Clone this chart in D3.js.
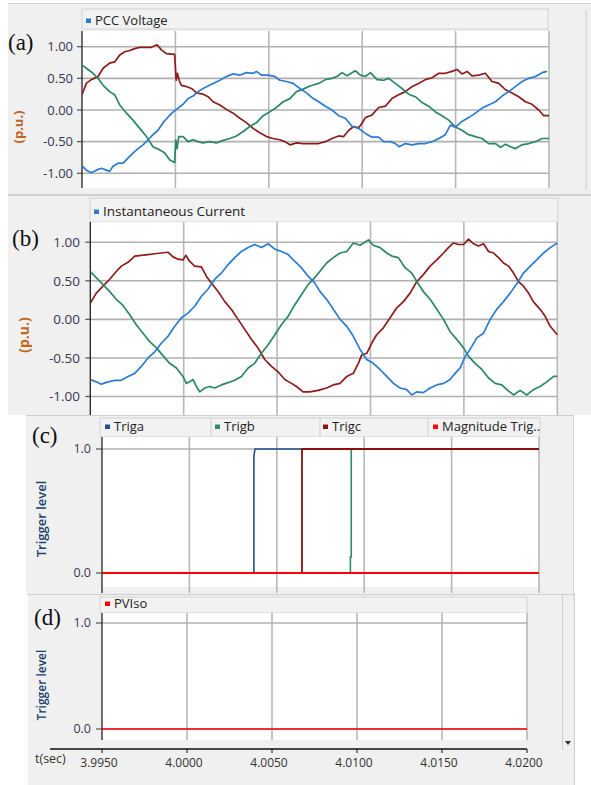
<!DOCTYPE html>
<html><head><meta charset="utf-8">
<script src="https://cdn.jsdelivr.net/npm/d3@7"></script>
<style>body{margin:0;background:#fff}svg{display:block}</style>
</head><body>
<svg id="c" width="591" height="785"></svg>
<script>
// ---------- data ----------
const T0 = 3.995; // seconds; series times below are ms offsets from T0
const xTickValues = [3.995, 4.000, 4.005, 4.010, 4.015, 4.020];
const xTickLabels = ["3.9950", "4.0000", "4.0050", "4.0100", "4.0150", "4.0200"];
const puTicks = [1, 0.5, 0, -0.5, -1];
const puTickLabels = ["1.00", "0.50", "0.00", "-0.50", "-1.00"];
const trigTicks = [1, 0];
const trigTickLabels = ["1.0", "0.0"];

// (a) PCC Voltage
const voltRed = [[0,0.24],[0.23,0.42],[0.5,0.48],[0.86,0.53],[1.13,0.66],[1.48,0.74],[1.75,0.76],[2.02,0.87],[2.29,0.92],[2.55,0.94],[2.82,0.97],[3.09,0.99],[3.45,0.99],[3.71,0.99],[4.02,1.03],[4.25,0.95],[4.52,0.89],[4.96,0.88],[5.04,0.47],[5.11,0.58],[5.2,0.47],[5.32,0.39],[5.59,0.37],[5.86,0.34],[6.13,0.27],[6.48,0.25],[6.75,0.21],[7.02,0.13],[7.38,0.08],[7.73,0.01],[8.09,-0.05],[8.45,-0.13],[8.8,-0.2],[9.16,-0.29],[9.52,-0.36],[9.88,-0.42],[10.23,-0.45],[10.59,-0.47],[10.86,-0.5],[11.13,-0.55],[11.48,-0.52],[11.84,-0.53],[12.2,-0.53],[12.67,-0.53],[13.03,-0.5],[13.38,-0.45],[13.74,-0.41],[14.01,-0.42],[14.28,-0.32],[14.55,-0.26],[14.81,-0.28],[14.99,-0.21],[15.17,-0.12],[15.52,-0.08],[15.88,0.04],[16.24,0.06],[16.59,0.18],[16.95,0.24],[17.31,0.29],[17.67,0.37],[18.02,0.42],[18.38,0.48],[18.74,0.51],[19.1,0.58],[19.45,0.58],[19.81,0.61],[20.08,0.64],[20.34,0.57],[20.61,0.61],[20.88,0.54],[21.24,0.55],[21.59,0.58],[21.95,0.45],[22.31,0.42],[22.67,0.32],[23.02,0.27],[23.38,0.21],[23.74,0.13],[24.09,0.09],[24.45,0.0],[24.72,-0.09],[25,-0.09]];
const voltGreen = [[0,0.71],[0.23,0.66],[0.59,0.58],[0.86,0.5],[1.13,0.39],[1.48,0.29],[1.75,0.24],[2.02,0.08],[2.38,-0.05],[2.73,-0.16],[3.09,-0.29],[3.45,-0.42],[3.8,-0.58],[4.16,-0.63],[4.43,-0.68],[4.7,-0.79],[4.96,-0.83],[5.02,-0.47],[5.09,-0.61],[5.18,-0.42],[5.41,-0.42],[5.68,-0.5],[5.95,-0.47],[6.21,-0.5],[6.48,-0.52],[6.84,-0.5],[7.2,-0.52],[7.55,-0.48],[7.91,-0.45],[8.27,-0.41],[8.63,-0.34],[8.98,-0.26],[9.34,-0.2],[9.7,-0.09],[10.05,-0.03],[10.41,0.04],[10.77,0.13],[11.13,0.18],[11.48,0.29],[11.84,0.33],[12.2,0.38],[12.67,0.42],[13.03,0.48],[13.38,0.5],[13.65,0.53],[13.92,0.59],[14.19,0.54],[14.63,0.62],[14.9,0.55],[15.17,0.53],[15.44,0.59],[15.8,0.48],[16.15,0.47],[16.42,0.5],[16.77,0.42],[17.13,0.34],[17.49,0.25],[17.84,0.21],[18.2,0.12],[18.56,0.06],[18.92,-0.03],[19.27,-0.09],[19.63,-0.16],[19.99,-0.27],[20.34,-0.32],[20.7,-0.39],[21.06,-0.42],[21.42,-0.45],[21.77,-0.53],[22.13,-0.53],[22.4,-0.59],[22.67,-0.54],[22.93,-0.58],[23.2,-0.61],[23.56,-0.55],[23.92,-0.53],[24.27,-0.5],[24.63,-0.45],[25,-0.45]];
const voltBlue = [[0,-0.88],[0.23,-0.95],[0.5,-0.99],[0.77,-0.95],[1.04,-0.92],[1.3,-0.95],[1.48,-0.97],[1.66,-0.89],[1.93,-0.84],[2.2,-0.84],[2.46,-0.76],[2.73,-0.68],[3.0,-0.61],[3.27,-0.55],[3.54,-0.47],[3.8,-0.39],[4.07,-0.32],[4.34,-0.2],[4.61,-0.11],[4.88,-0.03],[5.14,0.03],[5.41,0.09],[5.68,0.18],[5.95,0.22],[6.21,0.29],[6.48,0.34],[6.75,0.38],[7.02,0.42],[7.38,0.47],[7.73,0.53],[8.09,0.57],[8.45,0.55],[8.8,0.59],[9.16,0.58],[9.34,0.61],[9.61,0.55],[9.96,0.55],[10.32,0.53],[10.59,0.47],[10.95,0.45],[11.3,0.42],[11.66,0.34],[12.02,0.27],[12.38,0.18],[12.67,0.13],[13.03,0.06],[13.38,0],[13.74,-0.09],[14.1,-0.13],[14.46,-0.26],[14.81,-0.29],[15.17,-0.37],[15.52,-0.43],[15.88,-0.43],[16.15,-0.5],[16.51,-0.5],[16.77,-0.53],[16.99,-0.58],[17.31,-0.53],[17.67,-0.55],[18.02,-0.53],[18.38,-0.53],[18.74,-0.5],[19.1,-0.45],[19.45,-0.39],[19.72,-0.24],[19.99,-0.27],[20.34,-0.18],[20.7,-0.12],[21.06,-0.05],[21.42,0.03],[21.77,0.08],[22.13,0.13],[22.49,0.22],[22.84,0.29],[23.2,0.37],[23.56,0.45],[23.92,0.5],[24.27,0.53],[24.63,0.59],[24.9,0.61]];

// (b) Instantaneous Current
const currRed = [[0,0.21],[0.32,0.34],[0.68,0.43],[1.04,0.52],[1.39,0.62],[1.66,0.69],[2.02,0.74],[2.38,0.82],[2.73,0.83],[3.09,0.84],[3.45,0.85],[3.8,0.86],[4.16,0.87],[4.43,0.81],[4.7,0.78],[4.96,0.77],[5.11,0.83],[5.32,0.75],[5.59,0.69],[5.95,0.68],[6.21,0.56],[6.48,0.47],[6.84,0.36],[7.2,0.23],[7.55,0.13],[7.91,0],[8.27,-0.13],[8.63,-0.26],[8.98,-0.37],[9.34,-0.52],[9.7,-0.61],[10.05,-0.68],[10.41,-0.78],[10.77,-0.83],[11.04,-0.87],[11.39,-0.94],[11.75,-0.94],[12.2,-0.92],[12.65,-0.89],[13.01,-0.85],[13.37,-0.83],[13.73,-0.74],[14.08,-0.7],[14.35,-0.57],[14.53,-0.46],[14.8,-0.44],[15.06,-0.31],[15.33,-0.2],[15.69,-0.11],[16.05,0.02],[16.41,0.15],[16.76,0.23],[17.12,0.34],[17.48,0.49],[17.83,0.58],[18.19,0.69],[18.55,0.77],[18.91,0.86],[19.17,0.93],[19.44,0.99],[19.71,0.97],[19.98,0.97],[20.25,1.04],[20.51,0.98],[20.78,0.95],[21.05,0.98],[21.32,0.88],[21.59,0.86],[21.85,0.8],[22.12,0.73],[22.39,0.69],[22.66,0.6],[22.92,0.49],[23.19,0.43],[23.46,0.34],[23.72,0.23],[24.08,0.13],[24.35,0.04],[24.62,-0.09],[25,-0.2]];
const currGreen = [[0,0.62],[0.32,0.54],[0.68,0.45],[1.04,0.36],[1.39,0.26],[1.75,0.18],[2.11,0.06],[2.46,-0.07],[2.82,-0.18],[3.18,-0.29],[3.54,-0.37],[3.89,-0.47],[4.25,-0.57],[4.61,-0.63],[4.96,-0.74],[5.14,-0.83],[5.32,-0.81],[5.5,-0.78],[5.68,-0.87],[5.86,-0.94],[6.13,-0.89],[6.39,-0.87],[6.66,-0.89],[7.02,-0.85],[7.38,-0.82],[7.73,-0.79],[8.09,-0.74],[8.45,-0.63],[8.8,-0.57],[9.16,-0.44],[9.52,-0.33],[9.88,-0.2],[10.23,-0.07],[10.59,0.04],[10.95,0.19],[11.3,0.32],[11.66,0.45],[12.02,0.54],[12.38,0.65],[12.65,0.73],[13.01,0.8],[13.37,0.86],[13.73,0.88],[14.08,0.99],[14.44,0.96],[14.89,1.03],[15.15,0.96],[15.51,0.93],[15.87,0.86],[16.14,0.82],[16.49,0.8],[16.85,0.67],[17.21,0.6],[17.48,0.49],[17.83,0.36],[18.19,0.26],[18.55,0.13],[18.91,0],[19.26,-0.16],[19.62,-0.26],[19.98,-0.37],[20.25,-0.48],[20.6,-0.57],[20.96,-0.65],[21.32,-0.76],[21.68,-0.83],[22.03,-0.85],[22.3,-0.91],[22.66,-0.98],[23.01,-0.92],[23.37,-0.98],[23.73,-0.91],[24.08,-0.87],[24.44,-0.81],[24.8,-0.74],[25,-0.74]];
const currBlue = [[0,-0.78],[0.32,-0.81],[0.59,-0.84],[0.95,-0.81],[1.3,-0.79],[1.66,-0.79],[2.02,-0.74],[2.38,-0.7],[2.73,-0.61],[3.09,-0.5],[3.45,-0.42],[3.8,-0.31],[4.16,-0.22],[4.52,-0.09],[4.88,0.02],[5.23,0.08],[5.59,0.17],[5.95,0.3],[6.3,0.39],[6.66,0.52],[7.02,0.6],[7.38,0.71],[7.73,0.8],[8.09,0.88],[8.45,0.93],[8.8,0.97],[9.16,0.93],[9.52,0.98],[9.88,0.91],[10.23,0.88],[10.59,0.84],[10.95,0.75],[11.3,0.67],[11.66,0.56],[12.02,0.47],[12.3,0.36],[12.65,0.26],[13.01,0.13],[13.37,0],[13.73,-0.09],[14.08,-0.22],[14.44,-0.39],[14.8,-0.52],[15.15,-0.57],[15.51,-0.65],[15.87,-0.74],[16.23,-0.83],[16.58,-0.89],[16.94,-0.91],[17.21,-0.98],[17.48,-0.94],[17.83,-0.95],[18.19,-0.89],[18.55,-0.85],[18.91,-0.83],[19.26,-0.78],[19.53,-0.7],[19.8,-0.63],[20.07,-0.48],[20.33,-0.39],[20.69,-0.24],[21.05,-0.18],[21.41,0],[21.76,0.13],[22.12,0.23],[22.48,0.34],[22.83,0.46],[23.19,0.6],[23.55,0.69],[23.9,0.77],[24.26,0.86],[24.62,0.93],[25,0.99]];

// (c) trigger signals
const trigA = [[0,0],[8.69,0],[8.69,0.94],[8.75,1],[25,1]];
const trigB = [[0,0],[14.21,0],[14.21,0.13],[14.26,0.13],[14.26,1],[25,1]];
const trigC = [[0,0],[11.44,0],[11.44,1],[25,1]];
const trigMag = [[0,0],[25,0]];
// (d)
const pvIso = [[0,0],[25,0]];

// ---------- drawing ----------
const C = {blue:"#2b7bd3", red:"#8e1b1b", green:"#2b8766",
  trigA:"#1f4f8f", trigB:"#2e8b70", trigC:"#8b1010", mag:"#ff0000"};
const FONT = "'Open Sans', 'Noto Sans', sans-serif";
const svg = d3.select("#c");

function panel(p) {
  const g = svg.append("g");
  g.append("rect").attr("x", p.bg[0]).attr("y", p.bg[1]).attr("width", p.bg[2]).attr("height", p.bg[3]).attr("fill", "#f0f0f0");
  g.append("line").attr("x1", p.bg[0]).attr("x2", p.bg[0] + p.bg[2]).attr("y1", p.bg[1] + 0.5).attr("y2", p.bg[1] + 0.5).attr("stroke", "#cfcfcf");
  // header
  const h = p.header;
  g.append("rect").attr("x", h.x0).attr("y", h.y0).attr("width", h.x1 - h.x0).attr("height", h.y1 - h.y0)
    .attr("fill", "#f2f2f2").attr("stroke", "#d2d2d2");
  (h.seps || []).forEach(sx => g.append("line").attr("x1", sx).attr("x2", sx).attr("y1", h.y0).attr("y2", h.y1).attr("stroke", "#cfcfcf"));
  p.legend.forEach(l => {
    g.append("rect").attr("x", l.x).attr("y", h.base - 6.5).attr("width", 5).attr("height", 4.5).attr("fill", l.color);
    g.append("text").attr("x", l.x + 9).attr("y", h.base).attr("font-family", FONT).attr("font-size", p.legendSize)
      .attr("fill", "#222").text(l.name);
  });
  // plot area
  const pl = p.plot;
  g.append("rect").attr("x", pl.x0).attr("y", pl.y0).attr("width", pl.x1 - pl.x0).attr("height", pl.y1 - pl.y0).attr("fill", "#fff");
  const x = d3.scaleLinear().domain([xTickValues[0], xTickValues[xTickValues.length - 1]]).range([pl.x0, pl.x1]);
  const y = d3.scaleLinear().domain(p.yDomain).range(p.yRange);
  // vertical grid
  g.selectAll(null).data(xTickValues.slice(1)).join("line")
    .attr("x1", d => x(d)).attr("x2", d => x(d)).attr("y1", pl.y0).attr("y2", pl.gridBottom || pl.y1)
    .attr("stroke", "#b8b8b8").attr("stroke-width", 1.6);
  // horizontal grid + ticks
  g.selectAll(null).data(p.yTicks).join("line")
    .attr("x1", pl.x0).attr("x2", pl.x1).attr("y1", d => y(d)).attr("y2", d => y(d))
    .attr("stroke", "#b0b0b0").attr("stroke-width", 1.6);
  g.selectAll(null).data(p.yTicks).join("line")
    .attr("x1", pl.x0 - p.tickLen).attr("x2", pl.x0).attr("y1", d => y(d)).attr("y2", d => y(d))
    .attr("stroke", "#555").attr("stroke-width", 1.2);
  g.selectAll(null).data(p.yTicks).join("text")
    .attr("x", p.labelX).attr("y", d => y(d)).attr("dy", "0.35em").attr("text-anchor", "end")
    .attr("font-family", FONT).attr("font-size", p.tickSize).attr("fill", "#3a3550")
    .text((d, i) => p.yTickLabels[i]);
  // left axis line
  g.append("line").attr("x1", pl.x0).attr("x2", pl.x0).attr("y1", pl.y0).attr("y2", pl.gridBottom || pl.y1)
    .attr("stroke", "#222").attr("stroke-width", 1.3);
  // series
  const clipId = "clip" + p.id;
  svg.append("clipPath").attr("id", clipId).append("rect")
    .attr("x", pl.x0).attr("y", pl.y0).attr("width", pl.x1 - pl.x0 + 1).attr("height", pl.y1 - pl.y0);
  const line = d3.line().x(d => x(T0 + d[0] / 1000)).y(d => y(d[1]));
  p.series.forEach(s => {
    g.append("path").attr("d", line(s.data)).attr("fill", "none").attr("stroke", s.color)
      .attr("stroke-width", s.width || 1.7).attr("stroke-linejoin", "round").attr("clip-path", `url(#${clipId})`);
  });
  // y title
  g.append("text").attr("transform", `translate(${p.title.x},${p.title.y}) rotate(-90)`).attr("text-anchor", "middle")
    .attr("dy", "0.35em").attr("font-family", FONT).attr("font-size", p.title.size).attr("font-weight", p.title.weight)
    .attr("fill", p.title.color).text(p.title.text);
  // panel letter
  g.append("text").attr("x", p.letter.x).attr("y", p.letter.y).attr("font-family", "'Liberation Serif', 'Times New Roman', serif")
    .attr("font-size", 23).attr("fill", "#111").text(p.letter.text);
  return {g, x, y};
}

// panel (a)
const pa = panel({id: "a", bg: [8, 3, 583, 192],
  header: {x0: 82, x1: 548, y0: 9, y1: 29, base: 25},
  legend: [{name: "PCC Voltage", color: C.blue, x: 86}], legendSize: 13,
  plot: {x0: 82, x1: 549, y0: 31, y1: 188},
  yDomain: [-1, 1], yRange: [173.3, 46.7], yTicks: puTicks, yTickLabels: puTickLabels,
  tickLen: 5, labelX: 73, tickSize: 13,
  series: [{data: voltRed, color: C.red}, {data: voltGreen, color: C.green}, {data: voltBlue, color: C.blue}],
  title: {text: "(p.u.)", x: 18, y: 127, size: 13, weight: 700, color: "#c4651c"},
  letter: {text: "(a)", x: 8, y: 50}});
svg.append("line").attr("x1", 586).attr("x2", 586).attr("y1", 10).attr("y2", 190).attr("stroke", "#cfcfcf");
svg.append("line").attr("x1", 8).attr("x2", 591).attr("y1", 194.5).attr("y2", 194.5).attr("stroke", "#cfcfcf");

// panel (b)
panel({id: "b", bg: [8, 195, 583, 220],
  header: {x0: 90, x1: 558, y0: 198, y1: 222, base: 216},
  legend: [{name: "Instantaneous Current", color: C.blue, x: 94}], legendSize: 13.5,
  plot: {x0: 90.3, x1: 557.3, y0: 222, y1: 418},
  yDomain: [-1, 1], yRange: [396.5, 242.2], yTicks: puTicks, yTickLabels: puTickLabels,
  tickLen: 5, labelX: 80, tickSize: 13.5,
  series: [{data: currRed, color: C.red}, {data: currGreen, color: C.green}, {data: currBlue, color: C.blue}],
  title: {text: "(p.u.)", x: 24, y: 335, size: 14, weight: 700, color: "#c4651c"},
  letter: {text: "(b)", x: 12, y: 246}});

// panel (c)
panel({id: "c", bg: [26, 415, 547, 180],
  header: {x0: 100, x1: 540, y0: 418, y1: 437, base: 431, seps: [211, 320, 428]},
  legend: [{name: "Triga", color: C.trigA, x: 105}, {name: "Trigb", color: C.trigB, x: 215},
           {name: "Trigc", color: C.trigC, x: 323}, {name: "Magnitude Trig..", color: C.mag, x: 433}], legendSize: 13,
  plot: {x0: 102, x1: 539, y0: 437, y1: 587, gridBottom: 593},
  yDomain: [0, 1], yRange: [573, 449], yTicks: trigTicks, yTickLabels: trigTickLabels,
  tickLen: 6, labelX: 91, tickSize: 12.5,
  series: [{data: trigA, color: C.trigA, width: 1.6}, {data: trigB, color: C.trigB, width: 1.6},
           {data: trigC, color: C.trigC, width: 1.8}, {data: trigMag, color: C.mag, width: 2}],
  title: {text: "Trigger level", x: 41, y: 519, size: 13, weight: 600, color: "#22406e"},
  letter: {text: "(c)", x: 32, y: 443}});
svg.append("line").attr("x1", 573.5).attr("x2", 573.5).attr("y1", 415).attr("y2", 594).attr("stroke", "#cfcfcf");

// panel (d)
const pd = panel({id: "d", bg: [28, 594, 546, 191],
  header: {x0: 100, x1: 527, y0: 597, y1: 613, base: 608},
  legend: [{name: "PVIso", color: C.mag, x: 105}], legendSize: 13,
  plot: {x0: 102, x1: 527, y0: 613, y1: 740},
  yDomain: [0, 1], yRange: [729, 623], yTicks: trigTicks, yTickLabels: trigTickLabels,
  tickLen: 6, labelX: 91, tickSize: 12.5,
  series: [{data: pvIso, color: C.mag, width: 1.6}],
  title: {text: "Trigger level", x: 42, y: 685, size: 12, weight: 600, color: "#22406e"},
  letter: {text: "(d)", x: 34, y: 625}});

// x axis for (d)
const xa = pd.g.append("g").attr("transform", "translate(0,749)");
xa.append("line").attr("x1", 50).attr("x2", 527).attr("y1", 0).attr("y2", 0).attr("stroke", "#111").attr("stroke-width", 1.3);
xa.selectAll(null).data(xTickValues).join("line")
  .attr("x1", d => pd.x(d)).attr("x2", d => pd.x(d)).attr("y1", 0).attr("y2", 4).attr("stroke", "#111");
xa.selectAll(null).data(xTickValues).join("text")
  .attr("x", d => pd.x(d) - 3).attr("y", 18).attr("text-anchor", "middle")
  .attr("font-family", FONT).attr("font-size", 12).attr("fill", "#333").text((d, i) => xTickLabels[i]);
pd.g.append("text").attr("x", 35).attr("y", 763).attr("font-family", FONT).attr("font-size", 12.5).attr("fill", "#333").text("t(sec)");
// scrollbar
pd.g.append("line").attr("x1", 562.5).attr("x2", 562.5).attr("y1", 595).attr("y2", 750).attr("stroke", "#cfcfcf");
pd.g.append("line").attr("x1", 574.5).attr("x2", 574.5).attr("y1", 594).attr("y2", 785).attr("stroke", "#cfcfcf");
pd.g.append("path").attr("d", "M565,741 L571,741 L568,745 Z").attr("fill", "#333");
</script>
</body></html>
